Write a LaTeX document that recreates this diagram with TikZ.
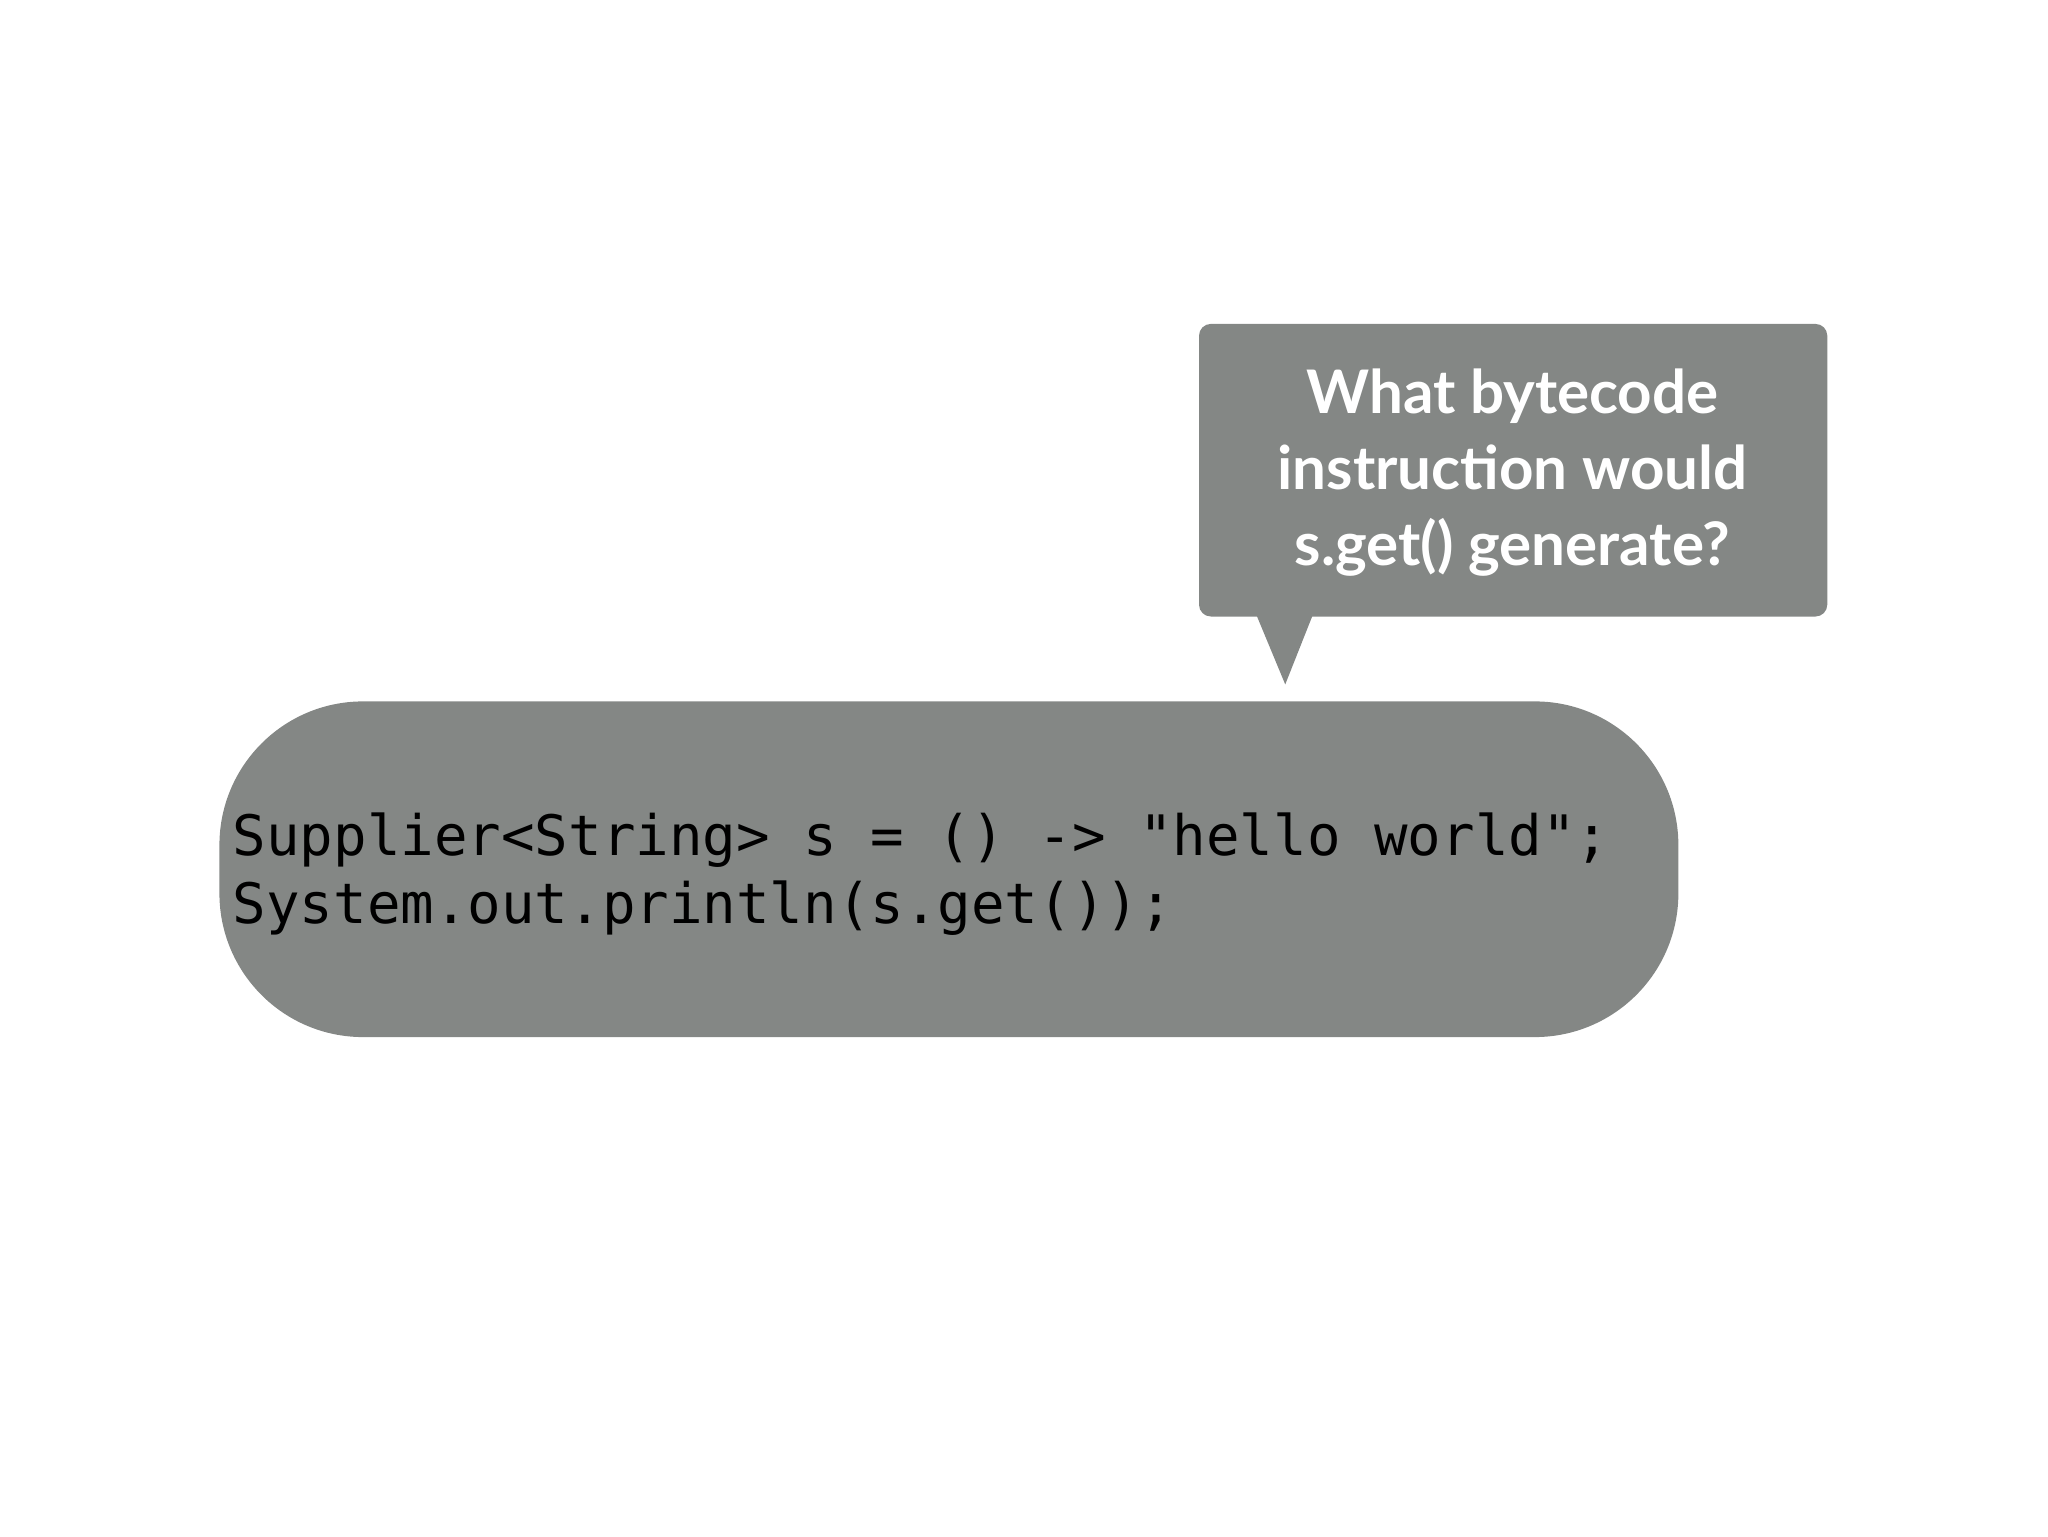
\documentclass[tikz,border=0pt]{standalone}
\usepackage{fontspec}
\setmonofont{DejaVu Sans Mono}
\newfontfamily\callfont{Lato}
\definecolor{boxgray}{HTML}{848785}
\begin{document}
\begin{tikzpicture}[x=1pt,y=-1pt,
  bubble/.style={fill=boxgray,draw=none}]
\useasboundingbox (0,0) rectangle (1568,1176);
\fill[boxgray,rounded corners=110pt] (168,537) rectangle (1285,794);
\node[anchor=base west,inner sep=0pt,align=left,font=\fontsize{42.7}{52}\ttfamily] (code) at (178,655) {Supplier<String> s = () -> "hello world";};
\node[anchor=base west,inner sep=0pt,font=\fontsize{42.7}{52}\ttfamily] (code2) at (178,707) {System.out.println(s.get());};
\fill[boxgray,rounded corners=9pt] (918,248) rectangle (1399,472);
\coordinate (tip) at (984,524);
\fill[boxgray] (962,471) -- (tip) -- (1005,471) -- cycle;
\node[text=white,align=center,font=\fontsize{46}{58}\callfont\bfseries] (q) at (1158,362) {What bytecode\\instruction would\\s.get() generate?};
\end{tikzpicture}
\end{document}
